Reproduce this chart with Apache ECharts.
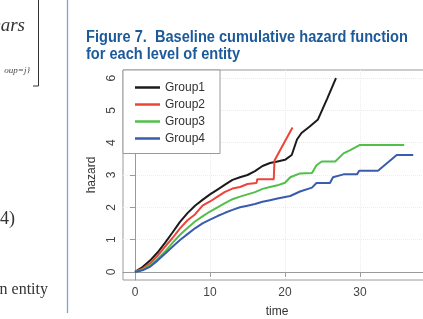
<!DOCTYPE html>
<html>
<head>
<meta charset="utf-8">
<script src="https://cdn.jsdelivr.net/npm/echarts@6/dist/echarts.min.js"></script>
<style>
  body { margin: 0; background: #fff; }
  #grafica { width: 423px; height: 319px; }
</style>
</head>
<body>
<div id="grafica"></div>
<script>
// cumulative hazard, [time, hazard]
const group1 = [[0,0],[1,0.15],[2,0.35],[3,0.6],[4,0.9],[5,1.22],[6,1.55],[7,1.82],[8,2.05],[9,2.23],[10,2.4],[11,2.55],[12,2.7],[13,2.85],[14,2.93],[15,3.0],[16,3.12],[17,3.28],[18,3.37],[19,3.42],[20,3.47],[20.9,3.62],[21.6,4.1],[22.2,4.3],[23.3,4.5],[24.4,4.72],[25.6,5.35],[26.8,6.0]];
const group2 = [[0,0],[1,0.1],[2,0.27],[3,0.5],[4,0.78],[5,1.05],[6,1.35],[7,1.6],[8,1.78],[9,2.05],[10,2.18],[11,2.33],[12,2.48],[13,2.58],[14,2.63],[15,2.72],[16.2,2.75],[16.3,2.87],[18.5,2.87],[18.6,3.45],[21,4.47]];
const group3 = [[0,0],[1,0.07],[2,0.2],[3,0.4],[4,0.63],[5,0.9],[6,1.15],[7,1.36],[8,1.56],[9,1.72],[10,1.87],[11,2.0],[12,2.13],[13,2.25],[14,2.33],[15,2.4],[16,2.47],[17,2.57],[18,2.63],[19,2.68],[20,2.76],[20.7,2.93],[22,3.05],[23.6,3.06],[24.2,3.3],[24.9,3.42],[26.7,3.42],[27.8,3.67],[28.7,3.77],[30,3.93],[35.9,3.93]];
const group4 = [[0,0],[1,0.05],[2,0.16],[3,0.35],[4,0.56],[5,0.78],[6,0.99],[7,1.17],[8,1.35],[9,1.5],[10,1.62],[11,1.73],[12,1.83],[13,1.92],[14,2.0],[15,2.05],[16,2.1],[17,2.17],[18,2.22],[19,2.27],[20,2.32],[20.7,2.35],[22,2.49],[23.6,2.61],[24.2,2.75],[26,2.75],[26.4,2.93],[27.8,3.02],[29.6,3.02],[29.9,3.13],[32.4,3.13],[34.9,3.62],[37.1,3.62]];

const groupNames = ["Group1", "Group2", "Group3", "Group4"];
const groupColors = ["#1b1b1b", "#ee4438", "#52bf4a", "#3a5cae"];
const xTicks = [0, 10, 20, 30];
const yTicks = [0, 1, 2, 3, 4, 5, 6];

const serif = "Liberation Serif";

const getOptionChart = () => {
  const series = [group1, group2, group3, group4].map((d, i) => ({
    name: groupNames[i],
    type: "line",
    data: d,
    symbol: "none",
    lineStyle: { width: 2, color: groupColors[i] },
    itemStyle: { color: groupColors[i] },
  }));

  return {
    animation: false,
    backgroundColor: "#fff",
    textStyle: { fontFamily: "Liberation Sans" },
    graphic: [
      // bits of the neighbouring page column
      { type: "line", shape: { x1: 67.5, y1: 0, x2: 67.5, y2: 313 }, style: { stroke: "#78a5d6", lineWidth: 1.3 } },
      { type: "polyline", shape: { points: [[38.5, 0], [38.5, 86], [33, 86]] }, style: { stroke: "#333", lineWidth: 1, fill: null } },
      { type: "text", style: { x: 25, y: 26, text: "ears", font: "italic 19px " + serif, fill: "#333", align: "right", verticalAlign: "middle" } },
      { type: "text", style: { x: 30, y: 71, text: "oup=j}", font: "italic 9px " + serif, fill: "#444", align: "right", verticalAlign: "middle" } },
      { type: "text", style: { x: 15, y: 219, text: "4)", font: "18px " + serif, fill: "#333", align: "right", verticalAlign: "middle" } },
      { type: "text", style: { x: 48, y: 290, text: "n entity", font: "16px " + serif, fill: "#333", align: "right", verticalAlign: "middle" } },
      // figure caption
      { type: "text", x: 86, y: 37.5, scaleX: 0.912, style: { x: 0, y: 0, text: "Figure 7.  Baseline cumulative hazard function", font: "bold 16px Liberation Sans", fill: "#1c5a9a", verticalAlign: "middle" } },
      { type: "text", x: 86, y: 55, scaleX: 0.912, style: { x: 0, y: 0, text: "for each level of entity", font: "bold 16px Liberation Sans", fill: "#1c5a9a", verticalAlign: "middle" } },
    ],
    grid: {
      left: 123,
      top: 70,
      width: 308,
      height: 210,
      outerBoundsMode: "none",
      containLabel: false,
      show: true,
      borderColor: "#9a9a9a",
      borderWidth: 1,
    },
    legend: {
      orient: "vertical",
      left: 123,
      top: 70,
      padding: [11.5, 15, 9, 12],
      icon: "rect",
      itemWidth: 25,
      itemHeight: 2.5,
      itemGap: 5,
      backgroundColor: "#fff",
      borderColor: "#9a9a9a",
      borderWidth: 1,
      borderRadius: 0,
      textStyle: { fontSize: 12, color: "#333", fontFamily: "Liberation Sans" },
      data: groupNames,
      z: 10,
    },
    xAxis: {
      type: "value",
      min: -1.6,
      max: 39.47,
      name: "time",
      nameLocation: "middle",
      nameGap: 26,
      nameTextStyle: { fontSize: 12, color: "#333" },
      axisLine: { show: true, lineStyle: { color: "#9a9a9a" } },
      axisTick: { show: true, length: 5, customValues: xTicks, lineStyle: { color: "#9a9a9a" } },
      axisLabel: { customValues: xTicks, fontSize: 12, color: "#444", margin: 7 },
      splitLine: { show: true, lineStyle: { color: "#ececec", type: "dotted" } },
    },
    yAxis: {
      type: "value",
      min: -0.25,
      max: 6.25,
      name: "hazard",
      nameLocation: "middle",
      nameGap: 22,
      nameTextStyle: { fontSize: 12, color: "#333" },
      axisLine: { show: true, lineStyle: { color: "#9a9a9a" } },
      axisTick: { show: true, length: 5, customValues: yTicks, lineStyle: { color: "#9a9a9a" } },
      axisLabel: { customValues: yTicks, rotate: 90, fontSize: 12, color: "#444", margin: 5 },
      splitLine: { show: true, lineStyle: { color: "#ececec", type: "dotted" } },
    },
    series: series,
  };
};

const initCharts = () => {
  const chart = echarts.init(document.querySelector("#grafica"), null, { renderer: "canvas" });
  chart.setOption(getOptionChart());
};

initCharts();
</script>
</body>
</html>
